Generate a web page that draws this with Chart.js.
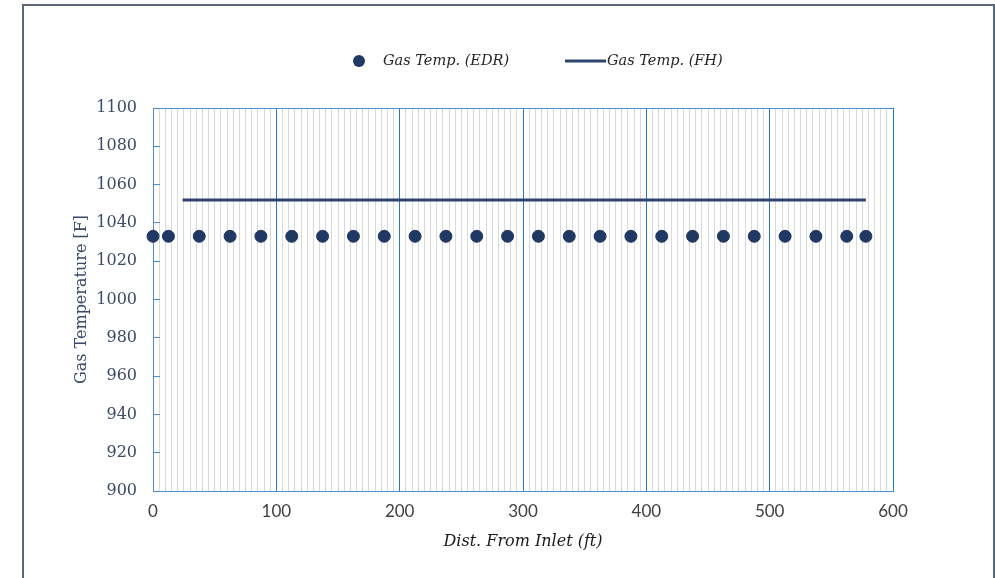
<!DOCTYPE html>
<html>
<head>
<meta charset="utf-8">
<script src="https://cdn.jsdelivr.net/npm/chart.js@4.4.1/dist/chart.umd.min.js"></script>
<style>
  html, body { margin:0; padding:0; background:#fff; }
  #wrap { position:relative; width:995px; height:578px; overflow:hidden; }
  #frame { position:absolute; left:22px; top:4px; width:973px; height:640px; border:2px solid #5b6679; box-sizing:border-box; }
  #c { position:absolute; left:0; top:0; }
</style>
</head>
<body>
<div id="wrap">
  <div id="frame"></div>
  <canvas id="c" width="995" height="578"></canvas>
</div>
<script>
// ---- data ----
const edrDist = [0, 12.5, 37.5, 62.5, 87.5, 112.5, 137.5, 162.5, 187.5, 212.5, 237.5, 262.5, 287.5, 312.5, 337.5, 362.5, 387.5, 412.5, 437.5, 462.5, 487.5, 512.5, 537.5, 562.5, 578];
const edrTemp = [1033, 1033, 1033, 1033, 1033, 1033, 1033, 1033, 1033, 1033, 1033, 1033, 1033, 1033, 1033, 1033, 1033, 1033, 1033, 1033, 1033, 1033, 1033, 1033, 1033];
const fhDist = [24, 578];
const fhTemp = [1052, 1052];
const xTickLabels = ['0', '100', '200', '300', '400', '500', '600'];
const yTickLabels = ['900', '920', '940', '960', '980', '1000', '1020', '1040', '1060', '1080', '1100'];
const seriesNames = ['Gas Temp. (EDR)', 'Gas Temp. (FH)'];

const NAVY = '#1f3864';
const LINE = '#2e4470';
const AXIS = '#4a8fd6';
const MAJOR = '#1f7ad0';
const MINOR = '#d9d9d9';
const SERIF = '"DejaVu Serif", "Liberation Serif", serif';

const isMajor = (v) => Math.abs(v / 100 - Math.round(v / 100)) < 1e-6;

const legendPlugin = {
  id: 'customLegend',
  afterDraw(chart) {
    const ctx = chart.ctx;
    const ds = chart.data.datasets;
    const y = 61;
    ctx.save();
    ctx.font = 'italic 14.5px ' + SERIF;
    ctx.textBaseline = 'middle';
    ctx.beginPath();
    ctx.arc(359, y, 6, 0, Math.PI * 2);
    ctx.fillStyle = ds[0].backgroundColor;
    ctx.fill();
    ctx.fillStyle = '#262626';
    ctx.fillText(ds[0].label, 383, y);
    ctx.beginPath();
    ctx.moveTo(565, y);
    ctx.lineTo(606, y);
    ctx.lineWidth = 3;
    ctx.strokeStyle = ds[1].borderColor;
    ctx.stroke();
    ctx.fillText(ds[1].label, 607, y);
    ctx.restore();
  }
};

new Chart(document.getElementById('c'), {
  data: {
    datasets: [
      {
        type: 'scatter',
        label: seriesNames[0],
        data: edrDist.map((d, i) => ({ x: d, y: edrTemp[i] })),
        backgroundColor: NAVY,
        borderColor: NAVY,
        pointRadius: 6,
        pointHoverRadius: 6,
        clip: false
      },
      {
        type: 'line',
        label: seriesNames[1],
        data: fhDist.map((d, i) => ({ x: d, y: fhTemp[i] })),
        borderColor: LINE,
        backgroundColor: LINE,
        borderWidth: 3,
        pointRadius: 0,
        fill: false,
        clip: false
      }
    ]
  },
  options: {
    responsive: false,
    animation: false,
    layout: { padding: { top: 108, right: 102, left: 0, bottom: 0 } },
    plugins: { legend: { display: false }, tooltip: { enabled: false } },
    scales: {
      x: {
        type: 'linear',
        min: 0, max: 600,
        afterFit: (s) => { s.height = 87; },
        border: { color: AXIS, width: 1 },
        grid: {
          drawTicks: false,
          color: (c) => (c.tick && isMajor(c.tick.value)) ? MAJOR : MINOR,
          lineWidth: 1
        },
        ticks: {
          stepSize: 5,
          maxTicksLimit: 200,
          autoSkip: false,
          maxRotation: 0,
          padding: 10,
          color: '#404040',
          font: { family: 'Lato, "Open Sans", sans-serif', size: 17 },
          callback: (v) => (isMajor(v) ? xTickLabels[Math.round(v / 100)] : '')
        },
        title: {
          display: true,
          text: 'Dist. From Inlet (ft)',
          color: '#1a1a1a',
          font: { family: SERIF, size: 16, style: 'italic' },
          padding: { top: 27, bottom: 27 }
        }
      },
      y: {
        type: 'linear',
        min: 900, max: 1100,
        afterFit: (s) => { s.width = 153; },
        border: { color: AXIS, width: 1 },
        grid: {
          drawOnChartArea: true,
          color: (c) => (c.tick && c.tick.value === 1100) ? AXIS : 'rgba(0,0,0,0)',
          tickColor: AXIS,
          tickLength: -7,
          lineWidth: 1
        },
        ticks: {
          stepSize: 20,
          padding: 23,
          color: '#3a4a6b',
          font: { family: SERIF, size: 16 },
          callback: (v) => yTickLabels[Math.round((v - 900) / 20)]
        },
        title: {
          display: true,
          text: 'Gas Temperature [F]',
          color: '#3a4a6b',
          font: { family: SERIF, size: 16 },
          padding: { top: 72, bottom: 72 }
        }
      }
    }
  },
  plugins: [legendPlugin]
});
</script>
</body>
</html>
